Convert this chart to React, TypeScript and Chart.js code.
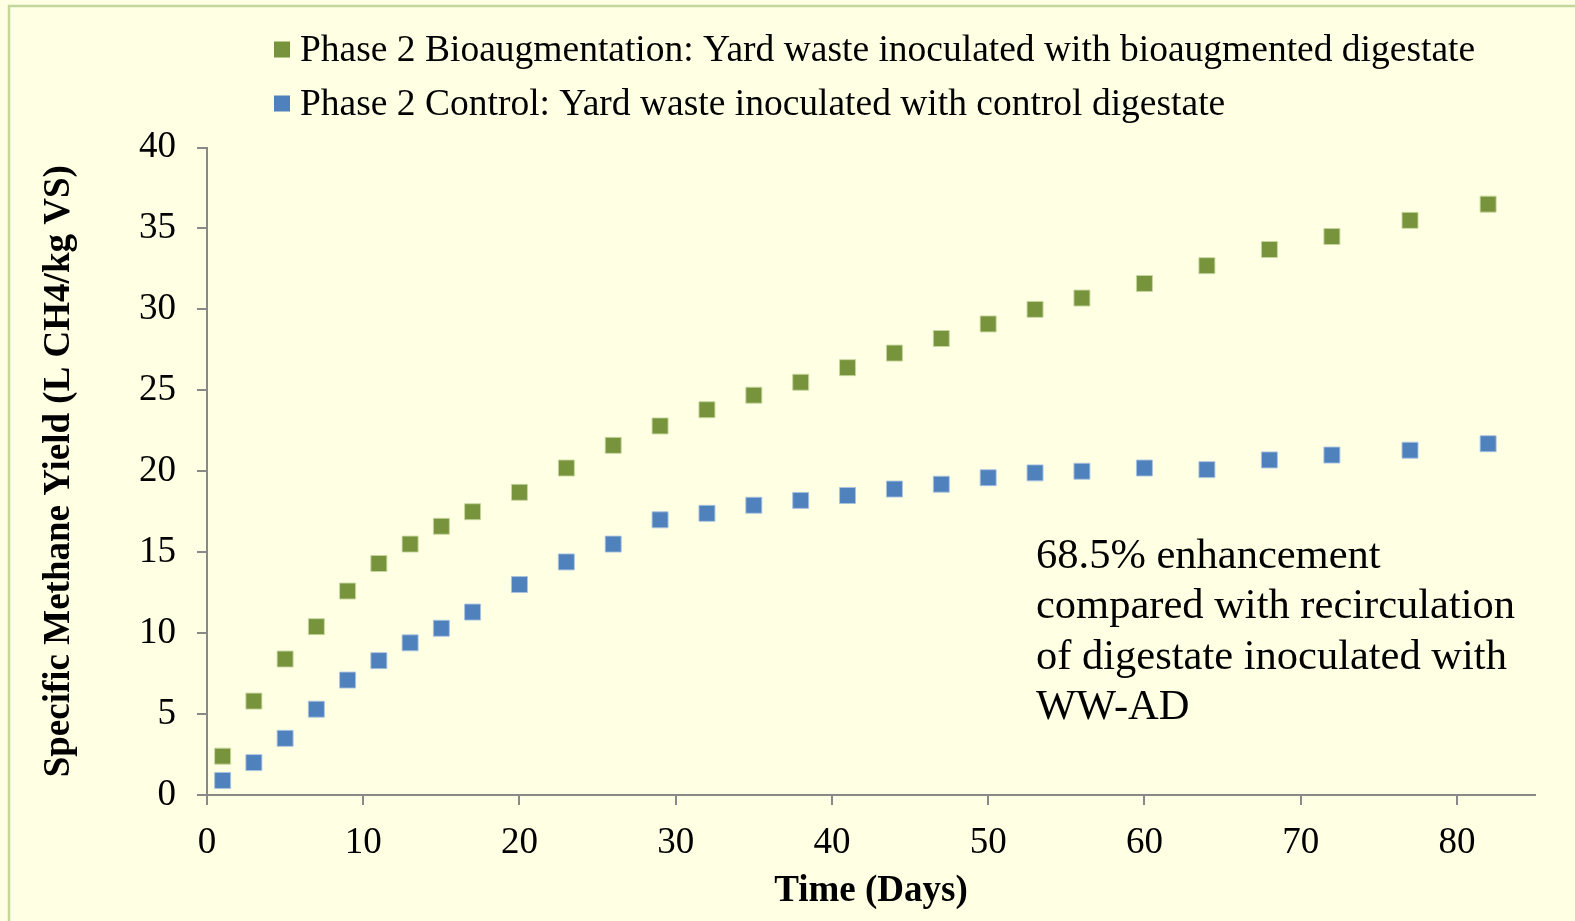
import React, { useEffect, useRef } from "react";
import { Chart, registerables } from "chart.js";
Chart.register(...registerables);

const days = [1, 3, 5, 7, 9, 11, 13, 15, 17, 20, 23, 26, 29, 32, 35, 38, 41, 44, 47, 50, 53, 56, 60, 64, 68, 72, 77, 82];
const bioaugmented = [2.4, 5.8, 8.4, 10.4, 12.6, 14.3, 15.5, 16.6, 17.5, 18.7, 20.2, 21.6, 22.8, 23.8, 24.7, 25.5, 26.4, 27.3, 28.2, 29.1, 30.0, 30.7, 31.6, 32.7, 33.7, 34.5, 35.5, 36.5];
const control = [0.9, 2.0, 3.5, 5.3, 7.1, 8.3, 9.4, 10.3, 11.3, 13.0, 14.4, 15.5, 17.0, 17.4, 17.9, 18.2, 18.5, 18.9, 19.2, 19.6, 19.9, 20.0, 20.2, 20.1, 20.7, 21.0, 21.3, 21.7];

const seriesLabels = [
  "Phase 2 Bioaugmentation: Yard waste inoculated with bioaugmented digestate",
  "Phase 2 Control: Yard waste inoculated with control digestate",
];
const annotationLines = [
  "68.5% enhancement",
  "compared with recirculation",
  "of digestate inoculated with",
  "WW-AD",
];
const xTitle = "Time (Days)";
const yTitle = "Specific Methane Yield (L CH4/kg VS)";

const FONT = "'Liberation Serif', 'Times New Roman', serif";
const GREEN = "#77933C";
const BLUE = "#4F81BD";
const AXIS = "#898989";
const BG = "#FFFFE3";

const decorPlugin = {
  id: "decor",
  beforeDraw(chart: any) {
    const ctx = chart.ctx;
    ctx.save();
    ctx.fillStyle = BG;
    ctx.fillRect(0, 0, chart.width, chart.height);
    ctx.strokeStyle = "#C3D69B";
    ctx.lineWidth = 2.5;
    ctx.beginPath();
    ctx.moveTo(9, chart.height + 5);
    ctx.lineTo(9, 6);
    ctx.lineTo(chart.width + 5, 6);
    ctx.stroke();
    ctx.restore();
  },
  afterDraw(chart: any) {
    const ctx = chart.ctx;
    ctx.save();
    // legend
    ctx.font = `37.5px ${FONT}`;
    ctx.textBaseline = "alphabetic";
    ctx.textAlign = "left";
    const rows = [
      { cy: 49.5, base: 61 },
      { cy: 103.5, base: 115 },
    ];
    chart.data.datasets.forEach((ds: any, i: number) => {
      const r = rows[i];
      ctx.fillStyle = ds.backgroundColor;
      ctx.fillRect(274, r.cy - 8, 16, 16);
      ctx.fillStyle = "#000";
      ctx.fillText(ds.label, 300, r.base);
    });
    // annotation
    ctx.font = `42.5px ${FONT}`;
    ctx.fillStyle = "#000";
    annotationLines.forEach((t, i) => {
      ctx.fillText(t, 1036, 568 + 50.3 * i);
    });
    ctx.restore();
  },
};

export default function App() {
  const ref = useRef<HTMLCanvasElement | null>(null);
  useEffect(() => {
    if (!ref.current) return;
    const chart = new Chart(ref.current, {
      type: "scatter",
      data: {
        datasets: [
          {
            label: seriesLabels[0],
            data: days.map((d, i) => ({ x: d, y: bioaugmented[i] })),
            backgroundColor: GREEN,
            borderColor: "rgba(200,215,160,0.9)",
            borderWidth: 1,
            pointStyle: "rect",
            pointRadius: 11.3,
          },
          {
            label: seriesLabels[1],
            data: days.map((d, i) => ({ x: d, y: control[i] })),
            backgroundColor: BLUE,
            borderColor: "rgba(170,195,225,0.9)",
            borderWidth: 1,
            pointStyle: "rect",
            pointRadius: 11.3,
          },
        ],
      },
      options: {
        animation: false,
        responsive: false,
        devicePixelRatio: 1,
        layout: { padding: { top: 147.5, right: 40, left: 0, bottom: 0 } },
        plugins: {
          legend: { display: false },
          tooltip: { enabled: false },
        },
        scales: {
          x: {
            type: "linear",
            min: 0,
            max: 85,
            afterFit: (s: any) => {
              s.height = 126;
            },
            ticks: {
              stepSize: 10,
              includeBounds: false,
              color: "#000",
              padding: 16,
              font: { family: FONT, size: 37 },
            },
            grid: {
              display: true,
              drawOnChartArea: false,
              drawTicks: true,
              tickLength: 10,
              color: AXIS,
              lineWidth: 2,
            },
            border: { display: true, color: AXIS, width: 2 },
            title: {
              display: true,
              text: xTitle,
              color: "#000",
              font: { family: FONT, size: 37, weight: "bold" },
              padding: { top: 0, bottom: 7 },
            },
          },
          y: {
            type: "linear",
            min: 0,
            max: 40,
            afterFit: (s: any) => {
              s.width = 207;
            },
            ticks: {
              stepSize: 5,
              color: "#000",
              padding: 21,
              font: { family: FONT, size: 37 },
            },
            grid: {
              display: true,
              drawOnChartArea: false,
              drawTicks: true,
              tickLength: 10,
              color: AXIS,
              lineWidth: 2,
            },
            border: { display: true, color: AXIS, width: 2 },
            title: {
              display: true,
              text: yTitle,
              color: "#000",
              font: { family: FONT, size: 37, weight: "bold" },
              padding: { top: 37, bottom: 0 },
            },
          },
        },
      },
      plugins: [decorPlugin],
    });
    return () => chart.destroy();
  }, []);
  return (
    <div style={{ position: "absolute", left: 0, top: 0, width: 1575, height: 921 }}>
      <canvas ref={ref} width={1575} height={921} />
    </div>
  );
}
